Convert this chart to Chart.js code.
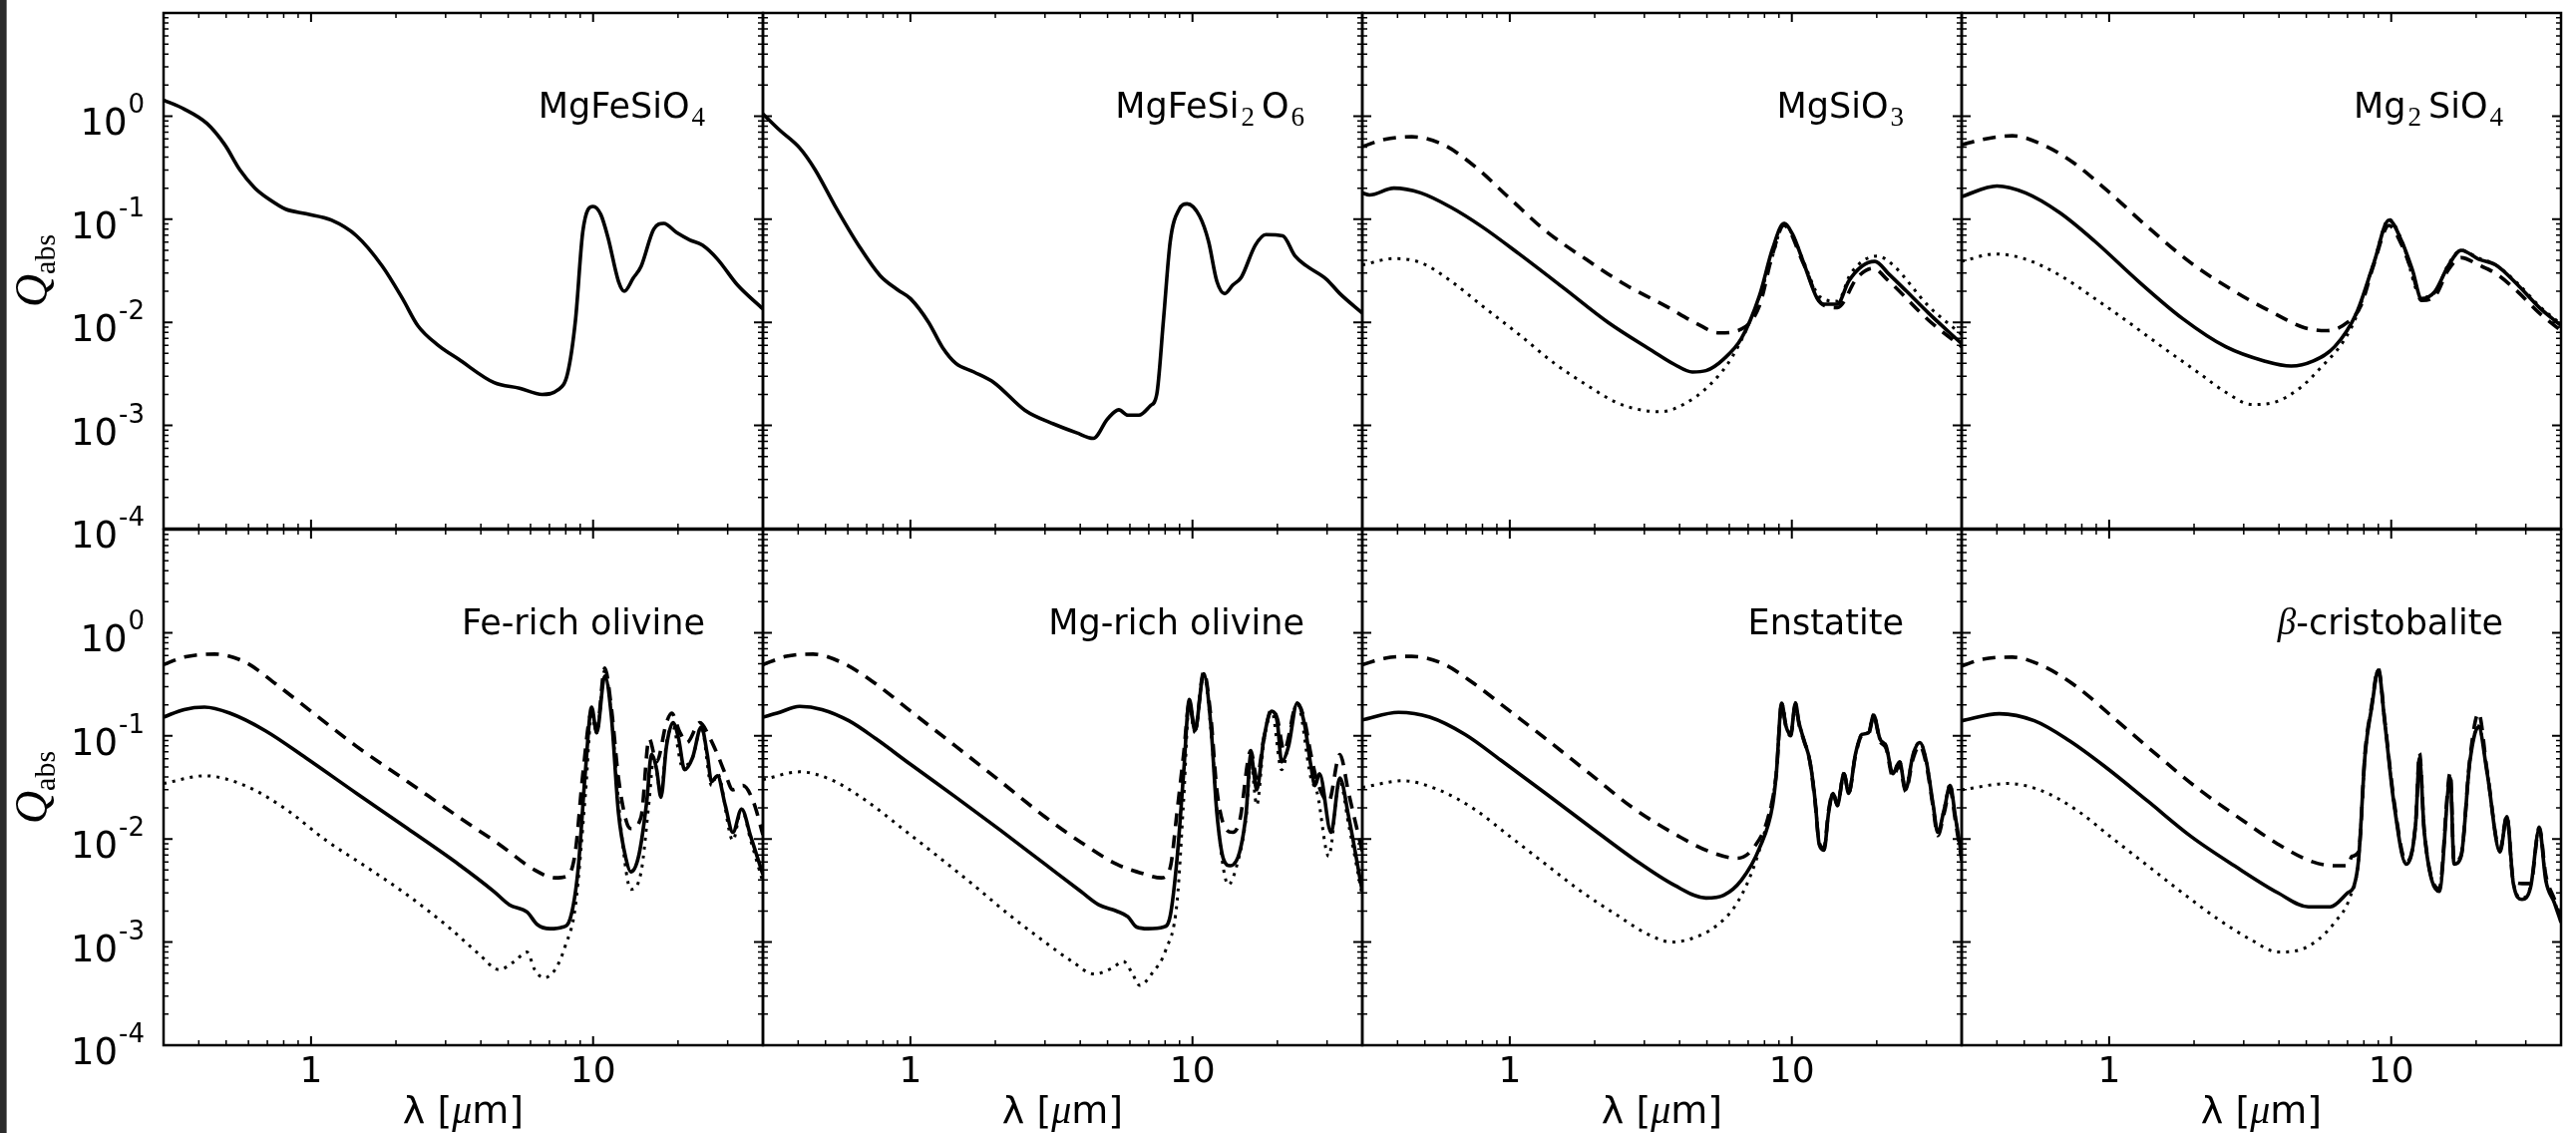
<!DOCTYPE html>
<html>
<head>
<meta charset="utf-8">
<script src="https://cdn.jsdelivr.net/npm/chart.js@4.4.1/dist/chart.umd.min.js"></script>
<style>
  body { margin: 0; background: #fff; width: 2583px; height: 1136px; overflow: hidden; position: relative; }
  #strip { position: absolute; left: 0; top: 0; width: 6px; height: 1136px; background: #2b2b2b; border-right: 1px solid #777; }
  canvas { position: absolute; }
</style>
</head>
<body>
<div id="strip"></div>
<script>
// axis ranges and tick labels
const xRange = [0.3, 40];
const yRange = [1e-4, 10];
const xTickValues = [1, 10];
const xTickLabels = ['1', '10'];
const yTickValues = [1, 0.1, 0.01, 0.001, 0.0001];
const yTickExponents = ['0', '-1', '-2', '-3', '-4'];

// curves, [lambda (um), Q_abs]
const mgFeSiO4Solid = [[0.3,1.43],[0.355,1.17],[0.427,0.85],[0.494,0.53],[0.56,0.30],[0.633,0.20],[0.718,0.153],[0.813,0.125],[0.959,0.113],[1.18,0.098],[1.45,0.069],[1.79,0.035],[2.11,0.017],[2.39,0.0093],[2.82,0.006],[3.33,0.0044],[4.46,0.0026],[5.48,0.0023],[6.6,0.002],[7.48,0.0022],[8.12,0.0032],[8.66,0.0105],[9.2,0.077],[10.0,0.133],[10.65,0.111],[11.3,0.066],[12.3,0.025],[12.9,0.020],[13.9,0.027],[14.8,0.035],[16.4,0.08],[17.8,0.091],[19.8,0.074],[22.0,0.063],[24.4,0.056],[27.6,0.041],[32.5,0.023],[40,0.0135]];

const mgFeSi2O6Solid = [[0.3,1.05],[0.344,0.73],[0.405,0.49],[0.46,0.30],[0.54,0.135],[0.66,0.054],[0.78,0.0285],[0.90,0.0207],[1.0,0.017],[1.16,0.01],[1.3,0.0057],[1.45,0.004],[1.68,0.0033],[1.98,0.0026],[2.55,0.0014],[3.23,0.00103],[3.88,0.00085],[4.45,0.00075],[5.0,0.00116],[5.48,0.00142],[5.9,0.00126],[6.46,0.00126],[7.08,0.00155],[7.47,0.002],[7.89,0.0105],[8.34,0.061],[8.97,0.125],[9.57,0.141],[10.6,0.107],[11.4,0.061],[12.2,0.025],[13.0,0.019],[13.9,0.023],[14.9,0.0274],[16.7,0.056],[18.2,0.071],[20.9,0.069],[23.1,0.044],[25.3,0.0354],[29.8,0.0263],[33.3,0.019],[40,0.0123]];

const mgSiO3Solid = [[0.3,0.18],[0.318,0.172],[0.388,0.20],[0.483,0.18],[0.62,0.13],[0.80,0.084],[1.08,0.046],[1.55,0.0216],[2.23,0.01],[3.2,0.0053],[3.84,0.0039],[4.44,0.0033],[4.96,0.0034],[5.73,0.0044],[6.63,0.007],[7.67,0.018],[8.55,0.052],[9.37,0.091],[10.07,0.071],[11.0,0.038],[12.3,0.017],[13.0,0.015],[14.5,0.015],[15.9,0.025],[17.7,0.035],[19.7,0.039],[22.0,0.0297],[25.5,0.02],[30.5,0.0123],[40,0.0062]];
const mgSiO3Dashed = [[0.3,0.507],[0.36,0.594],[0.45,0.63],[0.58,0.53],[0.75,0.327],[1.0,0.159],[1.34,0.077],[1.86,0.041],[2.58,0.023],[3.57,0.0144],[4.61,0.0097],[5.52,0.0079],[6.63,0.0086],[7.67,0.0144],[8.55,0.046],[9.37,0.087],[11.0,0.037],[12.8,0.015],[14.5,0.0139],[17.1,0.0274],[19.4,0.0334],[22.0,0.0253],[30.5,0.0105],[40,0.0058]];
const mgSiO3Dotted = [[0.3,0.036],[0.388,0.0415],[0.483,0.038],[0.62,0.025],[0.80,0.0144],[1.08,0.0076],[1.44,0.004],[1.86,0.0025],[2.39,0.00167],[2.98,0.0014],[3.44,0.00136],[4.13,0.0016],[5.14,0.0025],[6.17,0.0047],[7.39,0.0133],[8.55,0.0443],[9.37,0.091],[10.07,0.07],[11.0,0.039],[12.6,0.0176],[14.5,0.016],[16.2,0.030],[20.1,0.044],[22.8,0.036],[30.5,0.0144],[40,0.0076]];

const mg2SiO4Solid = [[0.3,0.166],[0.40,0.21],[0.505,0.18],[0.67,0.115],[0.89,0.061],[1.27,0.025],[1.82,0.0109],[2.59,0.0058],[3.57,0.0042],[4.42,0.00377],[5.27,0.0042],[6.3,0.0058],[7.53,0.0123],[8.68,0.0377],[9.82,0.098],[10.9,0.061],[11.9,0.032],[12.8,0.017],[14.3,0.02],[15.9,0.035],[17.7,0.05],[20.4,0.041],[23.5,0.036],[28.0,0.0233],[33.5,0.0139],[40,0.0093]];
const mg2SiO4Dashed = [[0.3,0.527],[0.355,0.594],[0.454,0.644],[0.582,0.527],[0.746,0.354],[0.99,0.187],[1.37,0.084],[1.95,0.0377],[2.78,0.02],[3.83,0.0123],[4.91,0.0089],[5.87,0.0083],[7.0,0.01],[7.8,0.0144],[8.68,0.0365],[9.82,0.087],[10.9,0.056],[11.9,0.0297],[12.8,0.0163],[14.3,0.018],[15.9,0.032],[17.7,0.0424],[20.4,0.036],[23.5,0.0297],[28.0,0.02],[33.5,0.0123],[40,0.0083]];
const mg2SiO4Dotted = [[0.3,0.039],[0.394,0.046],[0.505,0.041],[0.67,0.0285],[0.89,0.017],[1.19,0.0097],[1.58,0.0055],[2.09,0.0032],[2.59,0.0021],[3.21,0.0016],[3.83,0.00167],[4.74,0.0023],[5.66,0.0037],[6.76,0.0065],[7.52,0.0114],[8.68,0.038],[9.82,0.1],[10.9,0.062],[12.8,0.0175],[14.3,0.0195],[15.9,0.036],[17.7,0.05],[20.4,0.042],[23.5,0.036],[28.0,0.024],[33.5,0.0144],[40,0.0096]];

const feOlivineSolid = [[0.3,0.152],[0.355,0.18],[0.419,0.19],[0.515,0.166],[0.689,0.112],[0.96,0.061],[1.45,0.0277],[2.2,0.0126],[3.33,0.0057],[4.45,0.0031],[5.05,0.0023],[5.83,0.00196],[6.34,0.00148],[7.03,0.00135],[7.8,0.0014],[8.3,0.0017],[8.83,0.0048],[9.4,0.047],[9.88,0.19],[10.3,0.107],[11.0,0.38],[11.6,0.159],[12.3,0.0179],[13.1,0.0063],[13.6,0.0048],[14.5,0.0068],[15.5,0.0233],[16.1,0.066],[16.8,0.047],[17.4,0.0254],[18.2,0.079],[19.2,0.134],[20.1,0.094],[21.1,0.047],[22.5,0.061],[24.2,0.122],[25.4,0.066],[26.3,0.036],[27.6,0.041],[29.4,0.0213],[31.3,0.0116],[33.6,0.0195],[36.2,0.0106],[40,0.0045]];
const feOlivineDashed = [[0.3,0.49],[0.355,0.58],[0.455,0.62],[0.583,0.52],[0.748,0.32],[1.04,0.159],[1.45,0.079],[2.2,0.036],[3.33,0.0164],[4.64,0.0089],[6.21,0.005],[7.33,0.0042],[8.13,0.0044],[8.65,0.0075],[9.2,0.043],[9.88,0.17],[10.3,0.112],[11.0,0.455],[11.6,0.19],[12.3,0.039],[13.1,0.015],[13.6,0.0126],[14.8,0.0164],[15.8,0.094],[16.8,0.056],[18.2,0.134],[19.0,0.166],[20.2,0.112],[21.5,0.086],[23.9,0.134],[26.0,0.094],[27.6,0.066],[29.4,0.043],[31.3,0.030],[34.0,0.033],[37.0,0.023],[40,0.011]];
const feOlivineDotted = [[0.3,0.0345],[0.419,0.041],[0.583,0.033],[0.813,0.0195],[1.13,0.0097],[1.58,0.0053],[2.2,0.00285],[3.07,0.0014],[3.93,0.00077],[4.64,0.00054],[5.26,0.00065],[5.83,0.0008],[6.21,0.00054],[6.69,0.00045],[7.33,0.00054],[7.96,0.00091],[8.65,0.0022],[9.4,0.0277],[9.88,0.159],[10.3,0.107],[11.0,0.435],[11.6,0.159],[12.6,0.0116],[13.6,0.00325],[14.8,0.0048],[15.8,0.0233],[16.4,0.061],[17.4,0.0277],[18.2,0.086],[19.2,0.122],[20.7,0.051],[22.5,0.061],[24.2,0.122],[26.3,0.033],[27.6,0.043],[31.3,0.0097],[33.6,0.0195],[36.2,0.0097],[40,0.0038]];

const mgOlivineSolid = [[0.3,0.152],[0.337,0.166],[0.405,0.193],[0.486,0.18],[0.605,0.14],[0.753,0.094],[1.0,0.053],[1.45,0.0254],[2.09,0.0121],[3.0,0.0057],[4.02,0.0031],[4.65,0.0023],[5.38,0.002],[5.9,0.00176],[6.34,0.0014],[6.95,0.00135],[7.89,0.0014],[8.34,0.0018],[8.81,0.0063],[9.3,0.043],[9.75,0.226],[10.2,0.112],[10.96,0.40],[11.6,0.134],[12.2,0.018],[12.9,0.0063],[13.6,0.0055],[14.7,0.0075],[15.5,0.018],[16.1,0.066],[16.9,0.030],[17.9,0.094],[19.1,0.174],[20.0,0.134],[20.7,0.056],[21.9,0.079],[23.5,0.207],[24.9,0.134],[26.3,0.051],[27.2,0.033],[28.2,0.043],[31.0,0.0116],[33.3,0.039],[35.8,0.0164],[40,0.0031]];
const mgOlivineDashed = [[0.3,0.49],[0.363,0.59],[0.452,0.62],[0.583,0.50],[0.753,0.32],[1.0,0.174],[1.45,0.079],[2.09,0.036],[3.0,0.0164],[4.02,0.0093],[5.38,0.0057],[6.7,0.0046],[7.75,0.0042],[8.34,0.0053],[8.81,0.018],[9.3,0.066],[9.75,0.207],[10.2,0.112],[10.96,0.417],[11.6,0.159],[12.2,0.030],[13.1,0.0126],[13.9,0.0116],[14.7,0.015],[16.1,0.072],[16.9,0.039],[17.9,0.094],[19.1,0.182],[20.0,0.146],[21.1,0.072],[23.5,0.207],[24.9,0.146],[26.3,0.066],[27.7,0.036],[30.4,0.023],[33.3,0.066],[35.8,0.0277],[40,0.0075]];
const mgOlivineDotted = [[0.3,0.0376],[0.405,0.0448],[0.523,0.0376],[0.70,0.0233],[0.937,0.0126],[1.25,0.0068],[1.68,0.00355],[2.24,0.00184],[3.0,0.001],[3.74,0.00065],[4.49,0.00049],[5.19,0.00056],[5.69,0.00065],[6.11,0.0005],[6.5,0.00038],[7.2,0.0005],[8.04,0.00084],[8.81,0.0024],[9.3,0.0233],[9.75,0.207],[10.2,0.107],[10.96,0.40],[11.6,0.122],[12.4,0.0116],[13.4,0.0036],[14.4,0.0057],[15.5,0.0164],[16.1,0.056],[16.9,0.0213],[17.9,0.086],[19.1,0.174],[20.7,0.047],[23.5,0.207],[26.3,0.039],[27.7,0.0277],[30.4,0.0068],[33.3,0.036],[35.8,0.0137],[40,0.0028]];

const enstatiteSolid = [[0.3,0.143],[0.403,0.169],[0.52,0.152],[0.695,0.103],[0.93,0.058],[1.34,0.0277],[1.92,0.0132],[2.77,0.0063],[3.84,0.00355],[4.96,0.00268],[5.73,0.00285],[6.63,0.004],[7.67,0.0081],[8.55,0.0213],[8.81,0.043],[9.2,0.207],[9.55,0.122],[9.9,0.103],[10.3,0.207],[10.6,0.134],[11.0,0.094],[11.6,0.056],[12.1,0.0233],[12.5,0.0089],[13.0,0.0078],[13.5,0.018],[14.0,0.0277],[14.5,0.0213],[15.3,0.043],[15.9,0.0277],[16.8,0.066],[17.7,0.103],[18.7,0.107],[19.5,0.159],[20.5,0.094],[21.6,0.079],[22.8,0.043],[24.1,0.056],[25.3,0.030],[26.9,0.066],[28.4,0.086],[30.0,0.056],[31.7,0.0213],[32.9,0.0116],[34.7,0.0195],[36.4,0.033],[38.0,0.0164],[40,0.0068]];
const enstatiteDashed = [[0.3,0.49],[0.361,0.566],[0.449,0.59],[0.58,0.5],[0.748,0.32],[1.0,0.174],[1.34,0.094],[1.92,0.043],[2.77,0.0195],[3.98,0.0106],[5.14,0.0075],[6.4,0.0065],[7.39,0.0085],[8.25,0.0164],[8.81,0.043],[9.2,0.2],[9.55,0.12],[9.9,0.1],[10.3,0.2],[10.6,0.13],[11.0,0.092],[11.6,0.055],[12.1,0.022],[12.5,0.0092],[13.0,0.0082],[13.5,0.019],[14.0,0.028],[14.5,0.021],[15.3,0.043],[15.9,0.028],[16.8,0.064],[17.7,0.1],[18.7,0.104],[19.5,0.155],[20.5,0.09],[21.6,0.075],[22.8,0.04],[24.1,0.052],[25.3,0.029],[26.9,0.06],[28.4,0.08],[30.0,0.052],[31.7,0.02],[32.9,0.0108],[34.7,0.018],[36.4,0.03],[38.0,0.015],[40,0.0062]];
const enstatiteDotted = [[0.3,0.0316],[0.418,0.0367],[0.559,0.030],[0.748,0.0195],[1.0,0.0106],[1.34,0.0057],[1.79,0.0031],[2.39,0.00184],[3.09,0.00119],[3.77,0.001],[4.44,0.00109],[5.33,0.0014],[6.4,0.0024],[7.39,0.0057],[8.25,0.0164],[8.81,0.043],[9.2,0.21],[9.55,0.125],[9.9,0.105],[10.3,0.21],[10.6,0.135],[11.0,0.095],[11.6,0.057],[12.1,0.024],[12.5,0.0092],[13.0,0.0078],[13.5,0.018],[14.0,0.028],[14.5,0.022],[15.3,0.044],[15.9,0.028],[16.8,0.066],[17.7,0.104],[18.7,0.108],[19.5,0.162],[20.5,0.095],[21.6,0.08],[22.8,0.044],[24.1,0.057],[25.3,0.031],[26.9,0.067],[28.4,0.087],[30.0,0.057],[31.7,0.021],[32.9,0.0115],[34.7,0.02],[36.4,0.034],[38.0,0.0165],[40,0.0068]];

const cristobaliteSolid = [[0.3,0.14],[0.408,0.164],[0.543,0.14],[0.721,0.09],[0.96,0.051],[1.37,0.0233],[1.95,0.0106],[2.78,0.0055],[3.97,0.003],[5.09,0.0022],[6.08,0.0022],[7.0,0.003],[7.39,0.00355],[7.66,0.0063],[8.08,0.066],[8.53,0.19],[9.0,0.435],[9.49,0.134],[10.2,0.0233],[11.3,0.0057],[12.2,0.0138],[12.6,0.061],[13.1,0.0116],[14.8,0.0031],[16.2,0.039],[16.7,0.0057],[17.7,0.0068],[19.0,0.056],[20.4,0.122],[21.9,0.043],[24.3,0.0075],[25.7,0.0164],[27.1,0.0037],[29.1,0.0026],[31.2,0.0034],[33.5,0.0126],[35.3,0.004],[37.9,0.0024],[40,0.00155]];
const cristobaliteDashed = [[0.3,0.475],[0.354,0.552],[0.454,0.58],[0.582,0.475],[0.774,0.294],[1.03,0.152],[1.47,0.066],[2.09,0.030],[2.99,0.015],[3.97,0.0089],[5.27,0.006],[6.3,0.0055],[7.0,0.0055],[7.26,0.0068],[7.66,0.0075],[8.08,0.07],[8.53,0.2],[9.0,0.45],[9.49,0.14],[10.2,0.025],[11.3,0.006],[12.2,0.014],[12.6,0.068],[13.1,0.012],[14.8,0.0033],[16.2,0.044],[16.7,0.006],[17.7,0.007],[19.0,0.06],[20.4,0.166],[21.9,0.045],[24.3,0.0078],[25.7,0.017],[27.1,0.004],[29.1,0.0037],[31.2,0.0037],[33.5,0.013],[35.3,0.0045],[37.9,0.0026],[40,0.0017]];
const cristobaliteDotted = [[0.3,0.030],[0.438,0.0345],[0.583,0.029],[0.774,0.0187],[1.03,0.0101],[1.37,0.0055],[1.82,0.003],[2.41,0.0017],[3.21,0.00104],[3.97,0.0008],[4.74,0.00084],[5.47,0.00104],[6.3,0.00155],[7.13,0.0027],[7.66,0.0063],[8.08,0.066],[8.53,0.19],[9.0,0.44],[9.49,0.135],[10.2,0.0235],[11.3,0.0058],[12.2,0.0139],[12.6,0.062],[13.1,0.0117],[14.8,0.0032],[16.2,0.04],[16.7,0.0058],[17.7,0.0069],[19.0,0.057],[20.4,0.125],[21.9,0.044],[24.3,0.0076],[25.7,0.0165],[27.1,0.0038],[29.1,0.0027],[31.2,0.0035],[33.5,0.0128],[35.3,0.0041],[37.9,0.0025],[40,0.0016]];

const lineStyles = {
  solid:  { dash: [],      width: 3.6 },
  dashed: { dash: [13, 9], width: 3.6 },
  dotted: { dash: [3, 6],  width: 3 }
};

const panels = [
  { row: 0, col: 0, title: [{ t: 'MgFeSiO' }, { t: '4', sub: true }],
    series: [[mgFeSiO4Solid, 'solid']] },
  { row: 0, col: 1, title: [{ t: 'MgFeSi' }, { t: '2', sub: true }, { t: '\u2009' }, { t: 'O' }, { t: '6', sub: true }],
    series: [[mgFeSi2O6Solid, 'solid']] },
  { row: 0, col: 2, title: [{ t: 'MgSiO' }, { t: '3', sub: true }],
    series: [[mgSiO3Solid, 'solid'], [mgSiO3Dashed, 'dashed'], [mgSiO3Dotted, 'dotted']] },
  { row: 0, col: 3, title: [{ t: 'Mg' }, { t: '2', sub: true }, { t: '\u2009' }, { t: 'SiO' }, { t: '4', sub: true }],
    series: [[mg2SiO4Solid, 'solid'], [mg2SiO4Dashed, 'dashed'], [mg2SiO4Dotted, 'dotted']] },
  { row: 1, col: 0, title: [{ t: 'Fe-rich olivine' }],
    series: [[feOlivineSolid, 'solid'], [feOlivineDashed, 'dashed'], [feOlivineDotted, 'dotted']] },
  { row: 1, col: 1, title: [{ t: 'Mg-rich olivine' }],
    series: [[mgOlivineSolid, 'solid'], [mgOlivineDashed, 'dashed'], [mgOlivineDotted, 'dotted']] },
  { row: 1, col: 2, title: [{ t: 'Enstatite' }],
    series: [[enstatiteSolid, 'solid'], [enstatiteDashed, 'dashed'], [enstatiteDotted, 'dotted']] },
  { row: 1, col: 3, title: [{ t: '\u03b2', greek: true }, { t: '-cristobalite' }],
    series: [[cristobaliteSolid, 'solid'], [cristobaliteDashed, 'dashed'], [cristobaliteDotted, 'dotted']] }
];

// layout of the panel grid
const COL_LEFT = [164, 765, 1366, 1967];
const ROW_TOP = [13, 531];
const PW = 601, PH = 517;
const PAD = { left: 165, right: 16, top: 13, bottom: 88 };

const SANS = '"DejaVu Sans"';
const SERIF = '"Liberation Serif"';

function drawRich(ctx, segs, xRight, y) {
  const fontOf = s => s.sub ? '27px ' + SERIF : s.greek ? 'italic 37px ' + SERIF : '35px ' + SANS;
  let total = 0;
  segs.forEach(s => { ctx.font = fontOf(s); total += ctx.measureText(s.t).width + (s.sub ? 2 : 0); });
  let x = xRight - total;
  ctx.textAlign = 'left';
  ctx.textBaseline = 'alphabetic';
  segs.forEach(s => {
    ctx.font = fontOf(s);
    if (s.sub) x += 2;
    ctx.fillText(s.t, x, y + (s.sub ? 8 : 0));
    x += ctx.measureText(s.t).width;
  });
}

const panelDeco = {
  id: 'panelDeco',
  afterDatasetsDraw(chart) {
    const p = panels[+chart.canvas.dataset.idx];
    const ctx = chart.ctx, a = chart.chartArea;
    const xs = chart.scales.x, ys = chart.scales.y;
    ctx.save();
    ctx.strokeStyle = '#000';
    ctx.fillStyle = '#000';
    ctx.setLineDash([]);

    // inward ticks on all four sides
    const tick = (len, w, fn) => { ctx.lineWidth = w; ctx.beginPath(); fn(len); ctx.stroke(); };
    for (let e = -1; e <= 1; e++) {
      for (let k = 1; k <= 9; k++) {
        const v = k * Math.pow(10, e);
        if (v <= xRange[0] || v >= xRange[1]) continue;
        const px = xs.getPixelForValue(v);
        tick(k === 1 ? 9 : 5, k === 1 ? 2 : 1.5, len => {
          ctx.moveTo(px, a.bottom); ctx.lineTo(px, a.bottom - len);
          ctx.moveTo(px, a.top); ctx.lineTo(px, a.top + len);
        });
      }
    }
    for (let e = -4; e <= 0; e++) {
      for (let k = 1; k <= 9; k++) {
        const v = k * Math.pow(10, e);
        if (v <= yRange[0] * 1.0001 || v >= yRange[1] * 0.9999) continue;
        const py = ys.getPixelForValue(v);
        tick(k === 1 ? 9 : 5, k === 1 ? 2 : 1.5, len => {
          ctx.moveTo(a.left, py); ctx.lineTo(a.left + len, py);
          ctx.moveTo(a.right, py); ctx.lineTo(a.right - len, py);
        });
      }
    }

    // frame
    ctx.lineWidth = 2.5;
    ctx.strokeRect(a.left, a.top, a.right - a.left, a.bottom - a.top);

    // panel title
    drawRich(ctx, p.title, a.right - 58, a.top + 105);

    // y tick labels and title on the left column
    if (p.col === 0) {
      yTickValues.forEach((v, i) => {
        const py = ys.getPixelForValue(v);
        ctx.font = '26px ' + SANS;
        const supW = ctx.measureText(yTickExponents[i]).width;
        ctx.font = '37px ' + SANS;
        const mainW = ctx.measureText('10').width;
        const x0 = a.left - 20 - supW - mainW;
        ctx.textAlign = 'left';
        ctx.textBaseline = 'alphabetic';
        ctx.fillText('10', x0, py + 19);
        ctx.font = '26px ' + SANS;
        ctx.fillText(yTickExponents[i], x0 + mainW + 1, py - 3);
      });
      const cy = (a.top + a.bottom) / 2;
      ctx.save();
      ctx.translate(48, cy);
      ctx.rotate(-Math.PI / 2);
      ctx.font = 'italic 46px ' + SERIF;
      const qW = ctx.measureText('Q').width;
      ctx.font = '30px ' + SERIF;
      const sW = ctx.measureText('abs').width;
      const start = -(qW + sW) / 2;
      ctx.textAlign = 'left';
      ctx.font = 'italic 46px ' + SERIF;
      ctx.fillText('Q', start, 0);
      ctx.font = '30px ' + SERIF;
      ctx.fillText('abs', start + qW, 8);
      ctx.restore();
    }

    // x tick labels and title on the bottom row
    if (p.row === 1) {
      ctx.font = '36px ' + SANS;
      ctx.textAlign = 'center';
      ctx.textBaseline = 'alphabetic';
      xTickValues.forEach((v, i) => {
        ctx.fillText(xTickLabels[i], xs.getPixelForValue(v), a.bottom + 37);
      });
      const parts = [['\u03bb [', '38px ' + SANS], ['\u03bc', 'italic 40px ' + SERIF], ['m]', '38px ' + SANS]];
      let tw = 0;
      parts.forEach(([t, f]) => { ctx.font = f; tw += ctx.measureText(t).width; });
      let x = (a.left + a.right) / 2 - tw / 2;
      ctx.textAlign = 'left';
      parts.forEach(([t, f]) => { ctx.font = f; ctx.fillText(t, x, a.bottom + 78); x += ctx.measureText(t).width; });
    }
    ctx.restore();
  }
};

panels.forEach((p, idx) => {
  const cv = document.createElement('canvas');
  const W = PAD.left + PW + PAD.right, H = PAD.top + PH + PAD.bottom;
  cv.width = W;
  cv.height = H;
  cv.style.width = W + 'px';
  cv.style.height = H + 'px';
  cv.style.left = (COL_LEFT[p.col] - PAD.left) + 'px';
  cv.style.top = (ROW_TOP[p.row] - PAD.top) + 'px';
  cv.dataset.idx = idx;
  document.body.appendChild(cv);

  new Chart(cv, {
    type: 'line',
    data: {
      datasets: p.series.map(([values, style]) => ({
        data: values.map(([x, y]) => ({ x, y })),
        borderColor: '#000',
        borderWidth: lineStyles[style].width,
        borderDash: lineStyles[style].dash,
        borderCapStyle: 'butt',
        borderJoinStyle: 'round',
        pointRadius: 0,
        fill: false,
        cubicInterpolationMode: 'monotone'
      }))
    },
    options: {
      responsive: false,
      animation: false,
      devicePixelRatio: 1,
      events: [],
      layout: { padding: PAD },
      plugins: { legend: { display: false }, tooltip: { enabled: false } },
      scales: {
        x: { type: 'logarithmic', min: xRange[0], max: xRange[1], display: false },
        y: { type: 'logarithmic', min: yRange[0], max: yRange[1], display: false }
      }
    },
    plugins: [panelDeco]
  });
});
</script>
</body>
</html>
